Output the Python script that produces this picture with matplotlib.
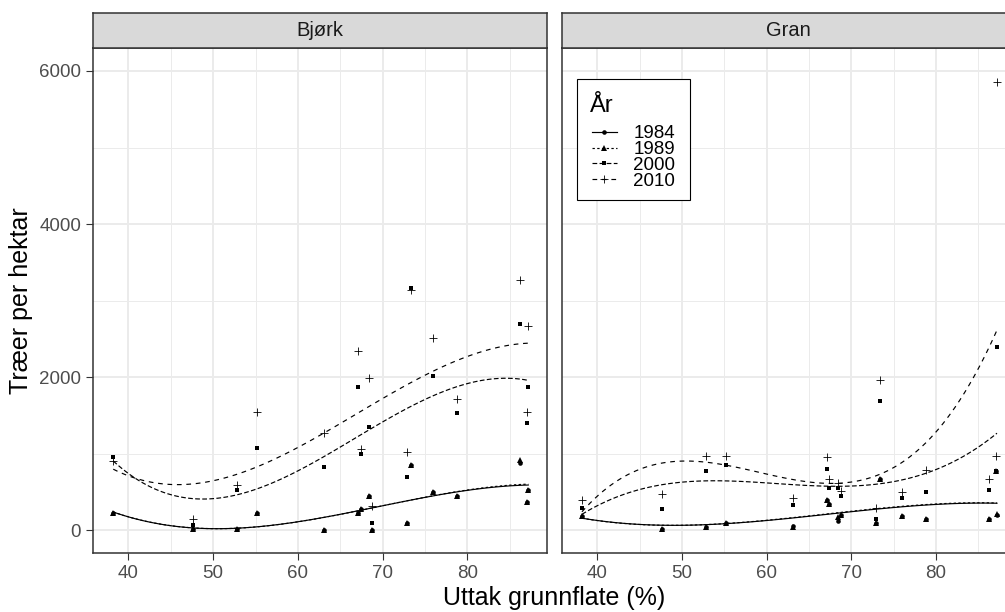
import numpy as np
import matplotlib
matplotlib.use("Agg")
import matplotlib.pyplot as plt
from matplotlib.lines import Line2D
from matplotlib.patches import Rectangle

plt.rcParams['font.family'] = ['Liberation Sans', 'DejaVu Sans']

# Uttak grunnflate (%) for each plot
uttak = [38.2, 47.6, 52.8, 55.2, 63.1, 67.1, 67.4, 68.4, 68.8,
         72.9, 73.35, 75.95, 78.8, 86.2, 87.05, 87.2]

years = ['1984', '1989', '2000', '2010']
species = ['Bjørk', 'Gran']

# Trees per hectare, Bjørk
bjork_1984 = [222, 21, 21, 222, 0, 230, 274, 448, 0, 99, 849, 500, 448, 880, 374, 526]
bjork_1989 = [222, 21, 21, 222, 0, 230, 274, 448, 0, 99, 849, 500, 448, 918, 374, 526]
bjork_2000 = [953, 73, 526, 1075, 827, 1872, 1000, 1353, 99, 700, 3165, 2015, 1528, 2694, 1405, 1872]
bjork_2010 = [905, 152, 596, 1541, 1275, 2342, 1058, 1993, 317, 1022, 3140, 2516, 1715, 3265, 1541, 2664]

# Trees per hectare, Gran
gran_1984 = [187, 21, 43, 99, 56, 396, 347, 117, 200, 95, 670, 191, 144, 144, 770, 200]
gran_1989 = [187, 21, 43, 99, 43, 396, 347, 178, 200, 95, 670, 191, 144, 144, 770, 213]
gran_2000 = [295, 274, 774, 853, 326, 797, 548, 548, 448, 148, 1689, 421, 496, 526, 778, 2394]
gran_2010 = [392, 470, 970, 970, 422, 953, 670, 622, 517, 295, 1963, 496, 791, 666, 970, 5855]

data = {
    'Bjørk': [bjork_1984, bjork_1989, bjork_2000, bjork_2010],
    'Gran': [gran_1984, gran_1989, gran_2000, gran_2010],
}

markers = {'1984': ('o', 3.3, 0.0), '1989': ('^', 3.7, 0.0),
           '2000': ('s', 3.3, 0.0), '2010': ('+', 5.5, 0.6)}
linestyles = {'1984': '-', '1989': (0, (2, 2)),
              '2000': (0, (4, 2)), '2010': (0, (4, 4))}
LW = 0.85


def smooth(x, y, grid, degree=3):
    """Least-squares polynomial trend of the given degree."""
    coef = np.polyfit(np.asarray(x, float), np.asarray(y, float), degree)
    return np.polyval(coef, grid)


W, H = 1005, 612
fig = plt.figure(figsize=(W / 100, H / 100), dpi=100)


def fx(px):
    return px / W


def fy(py):
    return 1 - py / H


panel_left = [93, 561.7]
panel_w = 454
panel_top, panel_bot = 48, 553.3
strip_top = 13

grid_x = np.linspace(min(uttak), max(uttak), 100)
axes = []
for i, sp in enumerate(species):
    l = panel_left[i]
    ax = fig.add_axes([fx(l), fy(panel_bot), panel_w / W,
                       (panel_bot - panel_top) / H])
    axes.append(ax)
    ax.set_xlim(35.81, 89.41)
    ax.set_ylim(-300, 6300)
    ax.set_xticks([40, 50, 60, 70, 80])
    ax.set_xticks([45, 55, 65, 75, 85], minor=True)
    ax.set_yticks([0, 2000, 4000, 6000])
    ax.set_yticks([1000, 3000, 5000], minor=True)
    ax.grid(which='major', color='#EBEBEB', lw=1.4)
    ax.grid(which='minor', color='#EBEBEB', lw=0.7)
    ax.set_axisbelow(True)
    for s in ax.spines.values():
        s.set_color('#333333')
        s.set_linewidth(1.1)
    ax.tick_params(which='major', length=5, width=0.8, color='#333333',
                   labelcolor='#4D4D4D', labelsize=13.5, pad=3.5)
    ax.tick_params(which='minor', length=0)
    if i == 1:
        ax.tick_params(axis='y', labelleft=False, length=0)

    for yr, vals in zip(years, data[sp]):
        m, ms, mew = markers[yr]
        ax.plot(uttak, vals, linestyle='none', marker=m, ms=ms, mew=mew,
                color='black', zorder=3)
        ax.plot(grid_x, smooth(uttak, vals, grid_x), color='black', lw=LW,
                linestyle=linestyles[yr], zorder=2)

    # facet strip
    sax = fig.add_axes([fx(l), fy(panel_top), panel_w / W,
                        (panel_top - strip_top) / H])
    sax.set_facecolor('#D9D9D9')
    sax.set_xticks([])
    sax.set_yticks([])
    for s in sax.spines.values():
        s.set_color('#333333')
        s.set_linewidth(1.1)
    sax.text(0.5, 0.5, sp, ha='center', va='center', fontsize=14.5,
             color='#1A1A1A', transform=sax.transAxes)

# legend box inside the Gran panel
tf = fig.transFigure
box_l, box_t, box_r, box_b = 576.7, 79, 690, 200
fig.add_artist(Rectangle((fx(box_l), fy(box_b)), (box_r - box_l) / W,
                         (box_b - box_t) / H, transform=tf, facecolor='white',
                         edgecolor='black', lw=0.8, zorder=10))
fig.text(fx(590), fy(111.7), 'År', ha='left', va='baseline', fontsize=17,
         zorder=11)
key_x0, key_x1, label_x = 591.7, 616.7, 633.3
row_y0, row_step = 132, 15.7
for k, yr in enumerate(years):
    yy = fy(row_y0 + k * row_step)
    m, ms, mew = markers[yr]
    fig.add_artist(Line2D([fx(key_x0), fx(key_x1)], [yy, yy], transform=tf,
                          color='black', lw=LW, linestyle=linestyles[yr],
                          zorder=11))
    fig.add_artist(Line2D([fx((key_x0 + key_x1) / 2)], [yy], transform=tf,
                          color='black', linestyle='none', marker=m, ms=ms,
                          mew=mew, zorder=11))
    fig.text(fx(label_x), yy, yr, ha='left', va='center_baseline',
             fontsize=13.5, zorder=11)

fig.text(fx((panel_left[0] + panel_left[1] + panel_w) / 2), fy(605),
         'Uttak grunnflate (%)', ha='center', va='baseline', fontsize=18)
fig.text(fx(9), fy((panel_top + panel_bot) / 2), 'Træer per hektar',
         ha='left', va='center', rotation=90, fontsize=18)

fig.savefig('out.png', dpi=100)
